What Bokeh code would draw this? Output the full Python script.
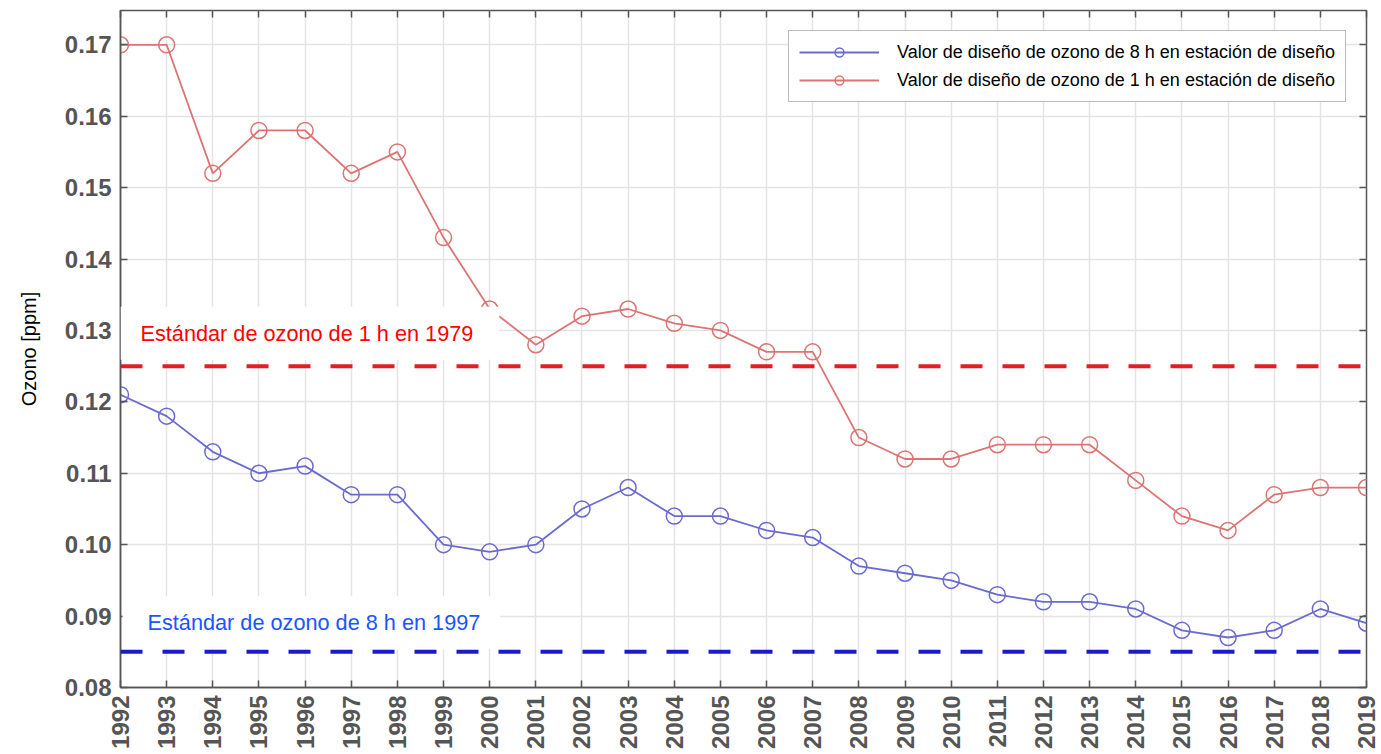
from bokeh.plotting import figure
from bokeh.models import (ColumnDataSource, Legend, LegendItem, Label, Span,
                          LinearAxis, FixedTicker, Range1d, CustomJSTickFormatter)
from bokeh.embed import file_html
from bokeh.resources import INLINE
import math

years = list(range(1992, 2020))
ozone_8h = [0.121, 0.118, 0.113, 0.110, 0.111, 0.107, 0.107, 0.100, 0.099, 0.100,
            0.105, 0.108, 0.104, 0.104, 0.102, 0.101, 0.097, 0.096, 0.095, 0.093,
            0.092, 0.092, 0.091, 0.088, 0.087, 0.088, 0.091, 0.089]
ozone_1h = [0.170, 0.170, 0.152, 0.158, 0.158, 0.152, 0.155, 0.143, 0.133, 0.128,
            0.132, 0.133, 0.131, 0.130, 0.127, 0.127, 0.115, 0.112, 0.112, 0.114,
            0.114, 0.114, 0.109, 0.104, 0.102, 0.107, 0.108, 0.108]
std_1h = 0.125
std_8h = 0.085
label_8h = "Valor de diseño de ozono de 8 h en estación de diseño"
label_1h = "Valor de diseño de ozono de 1 h en estación de diseño"
std_1h_text = "Estándar de ozono de 1 h en 1979"
std_8h_text = "Estándar de ozono de 8 h en 1997"
y_ticks = [0.08, 0.09, 0.10, 0.11, 0.12, 0.13, 0.14, 0.15, 0.16, 0.17]

src = ColumnDataSource(dict(year=years, o8=ozone_8h, o1=ozone_1h))

p = figure(width=1381, height=754, output_backend="svg", toolbar_location=None,
           x_range=Range1d(1992, 2019), y_range=Range1d(0.08, 0.1748),
           min_border_left=120, min_border_right=15, min_border_top=10,
           min_border_bottom=67, background_fill_color="white",
           border_fill_color="white")

p.outline_line_color = "#555555"
p.outline_line_width = 1.5

grid_col = "#e4e4e4"
p.xgrid.grid_line_color = grid_col
p.ygrid.grid_line_color = grid_col
p.xgrid.grid_line_width = 1.5
p.ygrid.grid_line_width = 1.5

p.xaxis.ticker = FixedTicker(ticks=years)
p.yaxis.ticker = FixedTicker(ticks=y_ticks)
p.yaxis.formatter = CustomJSTickFormatter(code="return tick.toFixed(2);")

for ax in (p.xaxis[0], p.yaxis[0]):
    ax.axis_line_color = "#555555"
    ax.axis_line_width = 1.5
    ax.major_tick_in = 7
    ax.major_tick_out = 0
    ax.major_tick_line_color = "#555555"
    ax.major_tick_line_width = 1.5
    ax.minor_tick_line_color = None
    ax.major_label_text_font = "Liberation Sans"
    ax.major_label_text_font_style = "bold"
    ax.major_label_text_color = "#555555"
    ax.major_label_text_font_size = "24px"

p.xaxis.major_label_orientation = math.pi / 2
p.xaxis.major_label_standoff = 8
p.yaxis.major_label_standoff = 9

p.yaxis.axis_label = "Ozono [ppm]"
p.yaxis.axis_label_text_font = "Liberation Sans"
p.yaxis.axis_label_text_font_style = "normal"
p.yaxis.axis_label_text_font_size = "20px"
p.yaxis.axis_label_text_color = "black"
p.yaxis.axis_label_standoff = 22

# box ticks on top and right (MATLAB style), without labels
blank = CustomJSTickFormatter(code="return '';")
top_ax = LinearAxis(ticker=FixedTicker(ticks=years), axis_line_color=None,
                    major_tick_in=7, major_tick_out=0,
                    major_tick_line_color="#555555", major_tick_line_width=1.5,
                    minor_tick_line_color=None, formatter=blank,
                    major_label_text_font_size="1px", major_label_standoff=0)
right_ax = LinearAxis(ticker=FixedTicker(ticks=y_ticks), axis_line_color=None,
                      major_tick_in=7, major_tick_out=0,
                      major_tick_line_color="#555555", major_tick_line_width=1.5,
                      minor_tick_line_color=None, formatter=blank,
                      major_label_text_font_size="1px", major_label_standoff=0)
p.add_layout(top_ax, "above")
p.add_layout(right_ax, "right")

# standard lines
p.add_layout(Span(location=std_1h, dimension="width", line_color="#e02020",
                  line_width=4, line_dash="22 20"))
p.add_layout(Span(location=std_8h, dimension="width", line_color="#1a1ad0",
                  line_width=4, line_dash="22 20"))

blue = "#6a6ad0"
red = "#dc7474"
r8l = p.line("year", "o8", source=src, line_color=blue, line_width=1.8)
r8c = p.scatter("year", "o8", source=src, marker="circle", size=16,
                fill_color=None, line_color=blue, line_width=1.5)
r1l = p.line("year", "o1", source=src, line_color=red, line_width=1.8)
r1c = p.scatter("year", "o1", source=src, marker="circle", size=16,
                fill_color=None, line_color=red, line_width=1.5)

p.add_layout(Label(x=1992, y=0.1296, text=std_1h_text, text_color="#ff0000",
                   text_font="Liberation Sans", text_font_size="21.7px",
                   text_baseline="middle", x_offset=0,
                   background_fill_color="white", padding=[20, 26, 14, 14]))
p.add_layout(Label(x=1992, y=0.0891, text=std_8h_text, text_color="#1a55ff",
                   text_font="Liberation Sans", text_font_size="21.7px",
                   text_baseline="middle", x_offset=2,
                   background_fill_color="white", padding=[25, 20, 14, 14]))

legend = Legend(items=[LegendItem(label=label_8h, renderers=[r8l, r8c]),
                       LegendItem(label=label_1h, renderers=[r1l, r1c])],
                location="top_right", margin=20, padding=10, spacing=6,
                glyph_width=80, glyph_height=22, label_height=22,
                label_standoff=18,
                label_text_font="Liberation Sans", label_text_font_size="18px",
                label_text_color="black", border_line_color="#777777",
                border_line_width=1.5, background_fill_color="white",
                background_fill_alpha=1.0)
p.add_layout(legend)

open("out.html", "w").write(file_html(p, INLINE))
